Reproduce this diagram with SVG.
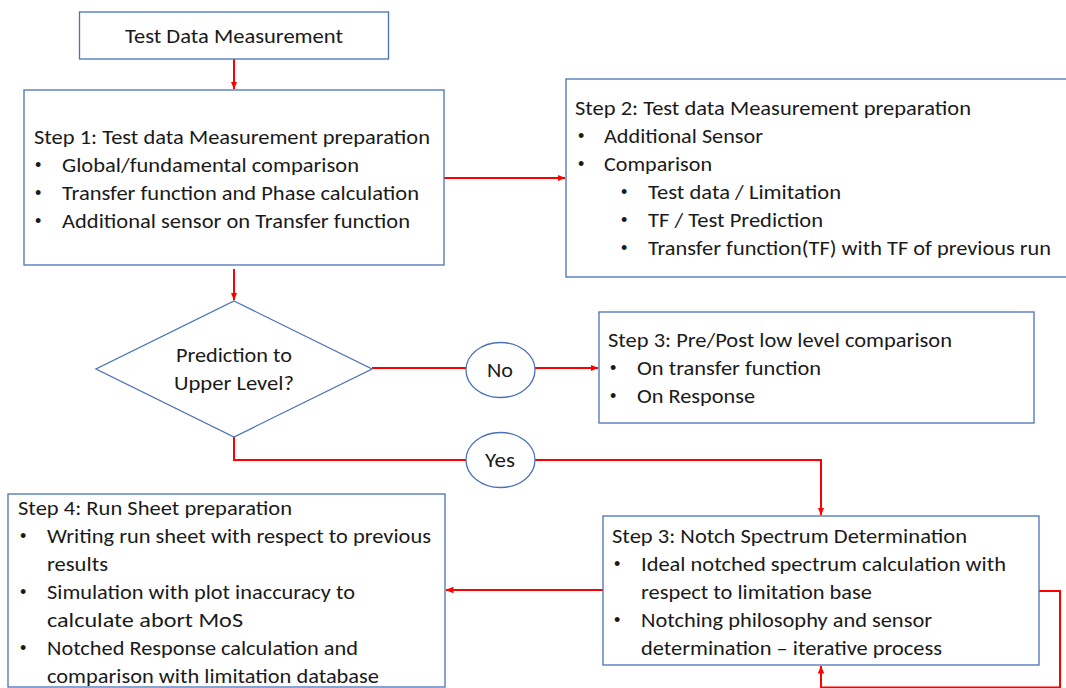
<svg xmlns="http://www.w3.org/2000/svg" width="1066" height="688" viewBox="0 0 1066 688">
<style>
.box{fill:#ffffff;stroke:#4a72b8;stroke-width:1.3}
.t{font-family:Calibri,Carlito,Lato,"Liberation Sans",sans-serif;font-size:19.5px;fill:#1a1a1a}
.b{font-family:"Liberation Sans",Arial,sans-serif;font-size:18px;fill:#1a1a1a}
.con{fill:none;stroke:#ff0000;stroke-width:2}
</style>
<defs>
<marker id="ah" viewBox="0 0 8 8" refX="7.5" refY="4" markerWidth="8" markerHeight="8" markerUnits="userSpaceOnUse" orient="auto">
<path d="M0,0.8 L8,4 L0,7.2 Z" fill="#ff0000"/>
</marker>
</defs>
<rect width="1066" height="688" fill="#ffffff"/>
<g id="connectors">
<path class="con" d="M234,59 V89" marker-end="url(#ah)"/>
<path class="con" d="M444,178 H565" marker-end="url(#ah)"/>
<path class="con" d="M234,269 V300" marker-end="url(#ah)"/>
<path class="con" d="M372,368 H466"/>
<path class="con" d="M535,368 H598" marker-end="url(#ah)"/>
<path class="con" d="M234,437 V460 H466"/>
<path class="con" d="M535,460 H821 V515" marker-end="url(#ah)"/>
<path class="con" d="M603,590 H446" marker-end="url(#ah)"/>
<path class="con" d="M1039,591 H1060 V687.5 H821 V666" marker-end="url(#ah)"/>
</g>
<g id="n-top">
<rect class="box" x="79.5" y="12" width="309" height="47"/>
<text class="t" x="125" y="43" textLength="218" lengthAdjust="spacingAndGlyphs">Test Data Measurement</text>
</g>
<g id="n-step1">
<rect class="box" x="24" y="90" width="420" height="175"/>
<text class="t" x="34" y="144" textLength="396" lengthAdjust="spacingAndGlyphs">Step 1: Test data Measurement preparation</text>
<text class="b" x="35" y="171">•</text>
<text class="t" x="62" y="172" textLength="297" lengthAdjust="spacingAndGlyphs">Global/fundamental comparison</text>
<text class="b" x="35" y="199">•</text>
<text class="t" x="62" y="200" textLength="357" lengthAdjust="spacingAndGlyphs">Transfer function and Phase calculation</text>
<text class="b" x="35" y="227">•</text>
<text class="t" x="62" y="228" textLength="348" lengthAdjust="spacingAndGlyphs">Additional sensor on Transfer function</text>
</g>
<g id="n-step2">
<rect class="box" x="566" y="79" width="510" height="198"/>
<text class="t" x="575" y="115" textLength="396" lengthAdjust="spacingAndGlyphs">Step 2: Test data Measurement preparation</text>
<text class="b" x="578" y="142">•</text>
<text class="t" x="604" y="143" textLength="159" lengthAdjust="spacingAndGlyphs">Additional Sensor</text>
<text class="b" x="578" y="170">•</text>
<text class="t" x="604" y="171" textLength="108" lengthAdjust="spacingAndGlyphs">Comparison</text>
<text class="b" x="621" y="198">•</text>
<text class="t" x="648" y="199" textLength="193" lengthAdjust="spacingAndGlyphs">Test data / Limitation</text>
<text class="b" x="621" y="226">•</text>
<text class="t" x="648" y="227" textLength="175" lengthAdjust="spacingAndGlyphs">TF / Test Prediction</text>
<text class="b" x="621" y="254">•</text>
<text class="t" x="648" y="255" textLength="403" lengthAdjust="spacingAndGlyphs">Transfer function(TF) with TF of previous run</text>
</g>
<g id="n-decision">
<polygon class="box" points="234,301 372,369 234,437 96,369"/>
<text class="t" x="176" y="362" textLength="116" lengthAdjust="spacingAndGlyphs">Prediction to</text>
<text class="t" x="174" y="390" textLength="120" lengthAdjust="spacingAndGlyphs">Upper Level?</text>
</g>
<g id="n-no">
<ellipse class="box" cx="500.5" cy="370" rx="34.5" ry="27.5"/>
<text class="t" x="487" y="377" textLength="26" lengthAdjust="spacingAndGlyphs">No</text>
</g>
<g id="n-yes">
<ellipse class="box" cx="500.5" cy="460" rx="34.5" ry="27.5"/>
<text class="t" x="485" y="467" textLength="30" lengthAdjust="spacingAndGlyphs">Yes</text>
</g>
<g id="n-step3a">
<rect class="box" x="599" y="312" width="435" height="111"/>
<text class="t" x="608" y="347" textLength="344" lengthAdjust="spacingAndGlyphs">Step 3: Pre/Post low level comparison</text>
<text class="b" x="610" y="374">•</text>
<text class="t" x="637" y="375" textLength="184" lengthAdjust="spacingAndGlyphs">On transfer function</text>
<text class="b" x="610" y="402">•</text>
<text class="t" x="637" y="403" textLength="118" lengthAdjust="spacingAndGlyphs">On Response</text>
</g>
<g id="n-step3b">
<rect class="box" x="603" y="516" width="436" height="149"/>
<text class="t" x="612" y="543" textLength="355" lengthAdjust="spacingAndGlyphs">Step 3: Notch Spectrum Determination</text>
<text class="b" x="614" y="570">•</text>
<text class="t" x="641" y="571" textLength="365" lengthAdjust="spacingAndGlyphs">Ideal notched spectrum calculation with</text>
<text class="t" x="641" y="599" textLength="231" lengthAdjust="spacingAndGlyphs">respect to limitation base</text>
<text class="b" x="614" y="626">•</text>
<text class="t" x="641" y="627" textLength="291" lengthAdjust="spacingAndGlyphs">Notching philosophy and sensor</text>
<text class="t" x="641" y="655" textLength="301" lengthAdjust="spacingAndGlyphs">determination – iterative process</text>
</g>
<g id="n-step4">
<rect class="box" x="8" y="494" width="437" height="193"/>
<text class="t" x="18" y="515" textLength="274" lengthAdjust="spacingAndGlyphs">Step 4: Run Sheet preparation</text>
<text class="b" x="20" y="542">•</text>
<text class="t" x="47" y="543" textLength="384" lengthAdjust="spacingAndGlyphs">Writing run sheet with respect to previous</text>
<text class="t" x="47" y="571" textLength="61" lengthAdjust="spacingAndGlyphs">results</text>
<text class="b" x="20" y="598">•</text>
<text class="t" x="47" y="599" textLength="308" lengthAdjust="spacingAndGlyphs">Simulation with plot inaccuracy to</text>
<text class="t" x="47" y="627" textLength="196" lengthAdjust="spacingAndGlyphs">calculate abort MoS</text>
<text class="b" x="20" y="654">•</text>
<text class="t" x="47" y="655" textLength="311" lengthAdjust="spacingAndGlyphs">Notched Response calculation and</text>
<text class="t" x="47" y="683" textLength="332" lengthAdjust="spacingAndGlyphs">comparison with limitation database</text>
</g>
</svg>
